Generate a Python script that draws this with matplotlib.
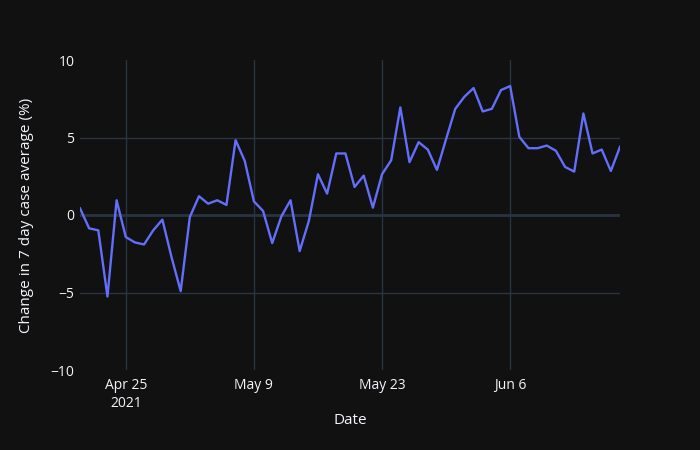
import datetime as dt
import matplotlib
matplotlib.use("Agg")
import matplotlib.pyplot as plt

start_date = dt.date(2021, 4, 20)
pct_change = [
    0.43, -0.86, -0.99, -5.26, 0.95, -1.42, -1.77, -1.90, -0.99, -0.30,
    -2.72, -4.91, -0.13, 1.21, 0.73, 0.95, 0.65, 4.83, 3.49, 0.88,
    0.26, -1.81, -0.09, 0.95, -2.33, -0.39, 2.63, 1.38, 3.97, 3.97,
    1.81, 2.54, 0.47, 2.63, 3.53, 6.94, 3.41, 4.70, 4.22, 2.91,
    4.90, 6.85, 7.63, 8.19, 6.68, 6.85, 8.06, 8.32, 5.04, 4.31,
    4.31, 4.48, 4.14, 3.10, 2.80, 6.55, 3.97, 4.22, 2.84, 4.40,
]
dates = [start_date + dt.timedelta(days=i) for i in range(len(pct_change))]

tick_dates = [dt.date(2021, 4, 25), dt.date(2021, 5, 9), dt.date(2021, 5, 23), dt.date(2021, 6, 6)]
tick_labels = ["Apr 25\n2021", "May 9", "May 23", "Jun 6"]
y_ticks = [-10, -5, 0, 5, 10]

bg = "#111111"
grid = "#283442"
text = "#f2f5fa"

plt.rcParams["font.family"] = ["Open Sans", "DejaVu Sans"]

fig = plt.figure(figsize=(7, 4.5), dpi=100, facecolor=bg)
ax = fig.add_axes([80 / 700, 80 / 450, 540 / 700, 310 / 450], facecolor=bg)

ax.plot(dates, pct_change, color="#636efa", linewidth=1.7, zorder=3)

ax.set_xlim(dates[0], dates[-1])
ax.set_ylim(-10, 10)
ax.set_xticks(tick_dates)
ax.set_xticklabels(tick_labels)
ax.set_yticks(y_ticks)
ax.set_yticklabels(["\u221210", "\u22125", "0", "5", "10"])

ax.grid(True, color=grid, linewidth=1, zorder=0)
ygl = ax.yaxis.get_gridlines()
ygl[0].set_visible(False)
ygl[-1].set_visible(False)
ax.axhline(0, color=grid, linewidth=2, zorder=1)

for s in ax.spines.values():
    s.set_visible(False)
ax.tick_params(axis="both", length=0, colors=text, labelsize=10)
ax.tick_params(axis="x", pad=6)
ax.tick_params(axis="y", pad=4)

ax.set_xlabel("Date", color=text, fontsize=11, labelpad=2)
ax.set_ylabel("Change in 7 day case average (%)", color=text, fontsize=11, labelpad=12)

fig.savefig("out.png", dpi=100, facecolor=bg)
